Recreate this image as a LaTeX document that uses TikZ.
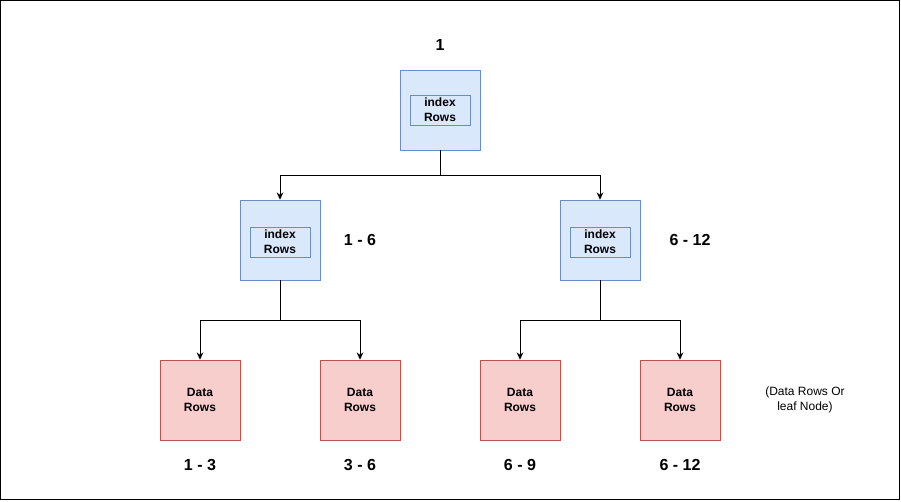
\documentclass[tikz,border=0pt]{standalone}
\usepackage{fontspec}
\setmainfont{Liberation Sans}
\usetikzlibrary{arrows.meta}

\definecolor{idxfill}{HTML}{DAE8FC}
\definecolor{idxline}{HTML}{6C8EBF}
\definecolor{datafill}{HTML}{F8CECC}
\definecolor{dataline}{HTML}{B85450}

\begin{document}
\begin{tikzpicture}[x=0.75pt,y=-0.75pt,
	idxbox/.style={draw=idxline,fill=idxfill,minimum width=60pt,minimum height=60pt,inner sep=0pt},
	idxinner/.style={draw=idxline,fill=idxfill,minimum width=45pt,minimum height=22.5pt,inner sep=0pt,align=center,font=\fontsize{9}{11}\selectfont\bfseries},
	databox/.style={draw=dataline,fill=datafill,minimum width=60pt,minimum height=60pt,inner sep=0pt,align=center,font=\fontsize{9}{11}\selectfont\bfseries},
	rangelbl/.style={font=\fontsize{12}{14}\selectfont\bfseries},
	arr/.style={-{Stealth[length=5.5pt,width=5pt]},line width=0.75pt}]

	% frame
	\useasboundingbox (0,0) rectangle (901,501);
	\draw[line width=0.75pt] (0.5,0.5) rectangle (899.5,499.5);

	% root
	\node[idxbox] (root) at (440,110) {};
	\node[idxinner] (rootin) at (440,110) {index\\Rows};
	\node[rangelbl] (rootlbl) at (440,45) {1};

	% index level
	\node[idxbox] (idxl) at (280,240) {};
	\node[idxinner] (idxlin) at (280,242) {index\\Rows};
	\node[rangelbl] (idxllbl) at (360,240) {1 - 6};
	\node[idxbox] (idxr) at (600,240) {};
	\node[idxinner] (idxrin) at (600,242) {index\\Rows};
	\node[rangelbl] (idxrlbl) at (690,240) {6 - 12};

	% leaf level
	\node[databox] (leafa) at (200,400) {Data\\Rows};
	\node[databox] (leafb) at (360,400) {Data\\Rows};
	\node[databox] (leafc) at (520,400) {Data\\Rows};
	\node[databox] (leafd) at (680,400) {Data\\Rows};
	\node[rangelbl] (leafalbl) at (200,465) {1 - 3};
	\node[rangelbl] (leafblbl) at (360,465) {3 - 6};
	\node[rangelbl] (leafclbl) at (520,465) {6 - 9};
	\node[rangelbl] (leafdlbl) at (680,465) {6 - 12};
	\node[align=center,font=\fontsize{9}{11}\selectfont] (leafnote) at (805,400) {(Data Rows Or\\leaf Node)};

	% connectors
	\draw[arr] (root.south) -- ++(0,25) -| (idxl.north);
	\draw[arr] (root.south) -- ++(0,25) -| (idxr.north);
	\draw[arr] (idxl.south) -- ++(0,40) -| (leafa.north);
	\draw[arr] (idxl.south) -- ++(0,40) -| (leafb.north);
	\draw[arr] (idxr.south) -- ++(0,40) -| (leafc.north);
	\draw[arr] (idxr.south) -- ++(0,40) -| (leafd.north);

\end{tikzpicture}
\end{document}
